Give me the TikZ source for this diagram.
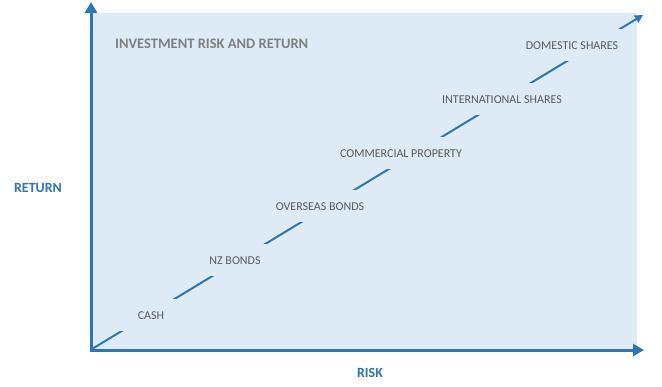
\documentclass[tikz,border=0pt]{standalone}
\usepackage{fontspec}
\setmainfont{Carlito}
\usetikzlibrary{arrows.meta,positioning}
\definecolor{axisblue}{HTML}{2E75B6}
\definecolor{panel}{HTML}{DEEBF7}
\definecolor{headgray}{HTML}{7F7F7F}
\definecolor{labelgray}{HTML}{595959}
\tikzset{
  axis/.style={axisblue, line width=3pt, -{Triangle[length=11pt,width=12pt]}},
  trend/.style={axisblue, line width=2pt, -{Triangle[length=8pt,width=8pt]}},
  asset/.style={fill=panel, text=labelgray, font=\fontsize{12}{14}\selectfont,
    text height=8pt, text depth=0pt, inner ysep=12pt, inner xsep=6pt, minimum width=62pt},
  axislabel/.style={text=axisblue, font=\fontsize{14}{16}\selectfont\bfseries}
}
\begin{document}
\begin{tikzpicture}[x=1pt,y=-1pt]
    \useasboundingbox (0,0) rectangle (662,386);
    % Panel
    \fill[panel] (91,13) rectangle (637,350);
    \node[anchor=west, inner sep=0pt, text=headgray, font=\fontsize{14.5}{17}\selectfont\bfseries] (title) at (115,44) {INVESTMENT RISK AND RETURN};

    % Axes
    \coordinate (origin) at (91,350);
    \coordinate (ytip) at (91,2);
    \coordinate (xtip) at (644,350);
    \draw[axis] ([yshift=-1.5pt]origin) -- (ytip);
    \draw[axis] ([xshift=-1.5pt]origin) -- (xtip);
    \node[axislabel] (return) at (38,188) {RETURN};
    \node[axislabel] (risk) at (370,373) {RISK};

    % Trend line
    \coordinate (ttip) at (643,15);
    \draw[trend] ([shift={(1,-1)}]origin) -- (ttip);

    % Asset classes
    \node[asset] (cash) at (151,315) {CASH};
    \node[asset] (nzbonds) at (235,260) {NZ BONDS};
    \node[asset] (overseas) at (320,206) {OVERSEAS BONDS};
    \node[asset] (property) at (401,153) {COMMERCIAL PROPERTY};
    \node[asset] (intl) at (502,99) {INTERNATIONAL SHARES};
    \node[asset] (domestic) at (572,45) {DOMESTIC SHARES};
\end{tikzpicture}
\end{document}
